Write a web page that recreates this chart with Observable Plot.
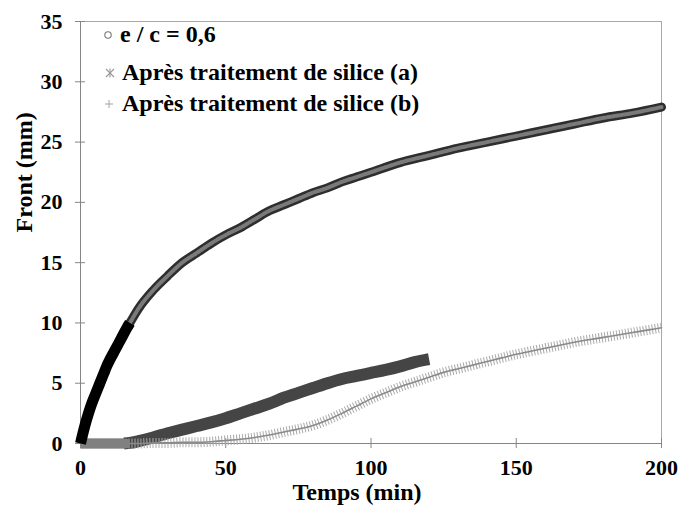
<!DOCTYPE html>
<html>
<head>
<meta charset="utf-8">
<script src="https://cdn.jsdelivr.net/npm/d3@7"></script>
<script src="https://cdn.jsdelivr.net/npm/@observablehq/plot@0.6"></script>
<style>
  html, body { margin: 0; padding: 0; background: #fff; }
  #chart { width: 678px; height: 507px; }
</style>
</head>
<body>
<div id="chart"></div>
<script>
// Series names
const seriesNames = ["e / c = 0,6", "Après traitement de silice (a)", "Après traitement de silice (b)"];

// Series "e / c = 0,6" (time in min, front in mm)
const ecT = [0, 1, 2, 3, 4, 5, 6, 7, 8, 9, 10, 12, 14, 16, 17, 20, 25, 30, 35, 40, 45, 50, 55, 60, 65, 70, 75, 80, 85, 90, 95, 100, 110, 120, 130, 140, 150, 160, 170, 180, 190, 200];
const ecV = [0, 1.0, 1.9, 2.7, 3.4, 4.0, 4.6, 5.2, 5.8, 6.4, 6.9, 7.8, 8.7, 9.6, 10.0, 11.2, 12.7, 13.9, 15.0, 15.8, 16.6, 17.3, 17.9, 18.6, 19.3, 19.8, 20.3, 20.8, 21.2, 21.7, 22.1, 22.5, 23.3, 23.9, 24.5, 25.0, 25.5, 26.0, 26.5, 27.0, 27.4, 27.9];

// Series "Après traitement de silice (a)"
const aT = [0, 5, 10, 15, 17, 20, 25, 30, 35, 40, 45, 50, 55, 60, 65, 70, 75, 80, 85, 90, 95, 100, 105, 110, 115, 120];
const aV = [0, 0, 0, 0, 0.05, 0.2, 0.5, 0.85, 1.15, 1.45, 1.75, 2.1, 2.5, 2.9, 3.3, 3.8, 4.2, 4.6, 5.0, 5.35, 5.6, 5.85, 6.1, 6.4, 6.75, 7.0];

// Series "Après traitement de silice (b)"
const bT = [0, 5, 10, 15, 17, 20, 25, 30, 35, 40, 45, 50, 55, 60, 65, 70, 75, 80, 85, 90, 95, 100, 105, 110, 115, 120, 125, 130, 135, 140, 145, 150, 155, 160, 165, 170, 175, 180, 185, 190, 195, 200];
const bV = [0, 0, 0, 0, 0, 0, 0.05, 0.05, 0.1, 0.1, 0.15, 0.25, 0.35, 0.5, 0.7, 0.95, 1.2, 1.5, 1.95, 2.5, 3.1, 3.7, 4.2, 4.7, 5.1, 5.5, 5.9, 6.2, 6.5, 6.8, 7.1, 7.4, 7.65, 7.9, 8.15, 8.4, 8.6, 8.8, 9.0, 9.2, 9.4, 9.6];

// Axis ticks and titles
const xTicks = [0, 50, 100, 150, 200];
const yTicks = [0, 5, 10, 15, 20, 25, 30, 35];
const xTitle = "Temps (min)";
const yTitle = "Front (mm)";

const ec = ecT.map((t, i) => ({t, v: ecV[i]}));
const a = aT.map((t, i) => ({t, v: aV[i]}));
const b = bT.map((t, i) => ({t, v: bV[i]}));

const axisColor = "#868686";
const frameColor = "#a8a8a8";

const plot = Plot.plot({
  width: 678,
  height: 507,
  marginLeft: 80,
  marginRight: 17,
  marginTop: 21,
  marginBottom: 64,
  x: {domain: [0, 200]},
  y: {domain: [0, 35]},
  style: {fontFamily: "'Liberation Serif', 'Times New Roman', serif", fontWeight: "bold", fontSize: "22px", color: "#000", background: "#fff"},
  marks: [
    // frame (top / right)
    Plot.ruleY([35], {stroke: frameColor}),
    Plot.ruleX([200], {stroke: frameColor}),
    // axes
    Plot.ruleX([0], {stroke: axisColor}),
    Plot.ruleY([0], {stroke: axisColor}),
    Plot.ruleX(xTicks, {x: d => d, y1: 0, y2: 0, insetTop: -5, insetBottom: -5, stroke: axisColor}),
    Plot.ruleY(yTicks, {y: d => d, x1: 0, x2: 0, insetLeft: -5, insetRight: -5, stroke: axisColor}),
    Plot.axisX({ticks: xTicks, tickSize: 0, tickPadding: 16, label: null, tickFormat: d => String(d)}),
    Plot.axisY({ticks: yTicks, tickSize: 0, tickPadding: 18, label: null, tickFormat: d => String(d)}),
    Plot.text([xTitle], {frameAnchor: "bottom", dx: -14, dy: 49, lineAnchor: "middle", fontSize: 24, fill: "#000"}),
    Plot.text([yTitle], {frameAnchor: "left", rotate: -90, dx: -56, lineAnchor: "middle", fontSize: 24, fill: "#000"}),

    // series (a)
    Plot.line(a, {filter: d => d.t <= 17, x: "t", y: "v", stroke: "#555", strokeWidth: 10, strokeLinecap: "butt"}),
    Plot.line(a, {filter: d => d.t >= 15, x: "t", y: "v", stroke: "#454545", strokeWidth: 12, strokeLinecap: "butt", curve: "monotone-x"}),
    // series (b)
    Plot.line(b, {x: "t", y: "v", stroke: "#a8a8a8", strokeWidth: 10, strokeDasharray: "1 2", strokeLinecap: "butt", curve: "monotone-x"}),
    Plot.line(b, {x: "t", y: "v", stroke: "#8a8a8a", strokeWidth: 1.6, curve: "monotone-x"}),
    Plot.line(b, {filter: d => d.t <= 17, x: "t", y: "v", stroke: "#808080", strokeWidth: 9, strokeLinecap: "butt"}),
    // series e/c = 0,6
    Plot.line(ec, {filter: d => d.t >= 16, x: "t", y: "v", stroke: "#2e2e2e", strokeWidth: 9, strokeLinecap: "round", curve: "monotone-x"}),
    Plot.line(ec, {filter: d => d.t >= 16, x: "t", y: "v", stroke: "#7a7a7a", strokeWidth: 4, strokeDasharray: "2.5 1.5", curve: "monotone-x"}),
    Plot.line(ec, {filter: d => d.t <= 17, x: "t", y: "v", stroke: "#000", strokeWidth: 11, strokeLinecap: "butt", curve: "monotone-x"})
  ]
});

document.getElementById("chart").appendChild(plot);

// Legend (inside the plot, top-left)
const svg = d3.select(plot);
const lg = svg.append("g")
  .attr("font-family", "'Liberation Serif', 'Times New Roman', serif")
  .attr("font-weight", "bold")
  .attr("font-size", 24)
  .attr("text-anchor", "start")
  .attr("fill", "#000");
const rows = [
  {name: seriesNames[0], y: 42, tx: 120, mx: 108},
  {name: seriesNames[1], y: 80, tx: 122, mx: 110},
  {name: seriesNames[2], y: 111, tx: 122, mx: 109}
];
rows.forEach((r, i) => {
  lg.append("text").attr("x", r.tx).attr("y", r.y).attr("text-anchor", "start").text(r.name);
  const cy = r.y - 7;
  if (i === 0) {
    lg.append("circle").attr("cx", r.mx).attr("cy", cy).attr("r", 3.2).attr("fill", "#fff").attr("stroke", "#777").attr("stroke-width", 1.1);
  } else if (i === 1) {
    const g = lg.append("g").attr("stroke", "#999").attr("stroke-width", 1.1);
    g.append("line").attr("x1", r.mx - 4).attr("y1", cy - 4).attr("x2", r.mx + 4).attr("y2", cy + 4);
    g.append("line").attr("x1", r.mx - 4).attr("y1", cy + 4).attr("x2", r.mx + 4).attr("y2", cy - 4);
    g.append("line").attr("x1", r.mx).attr("y1", cy - 4.5).attr("x2", r.mx).attr("y2", cy + 4.5);
  } else {
    const g = lg.append("g").attr("stroke", "#aaa").attr("stroke-width", 1.1);
    g.append("line").attr("x1", r.mx - 4).attr("y1", cy).attr("x2", r.mx + 4).attr("y2", cy);
    g.append("line").attr("x1", r.mx).attr("y1", cy - 4).attr("x2", r.mx).attr("y2", cy + 4);
  }
});
</script>
</body>
</html>
